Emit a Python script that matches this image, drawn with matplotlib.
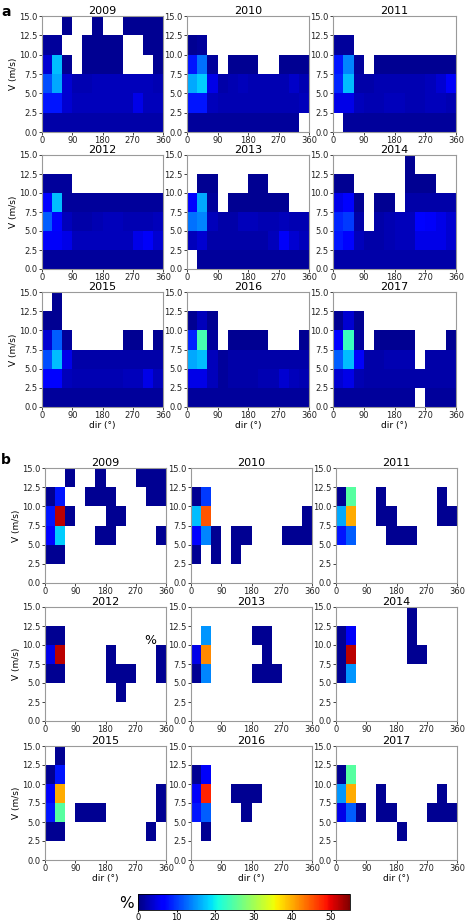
import numpy as np
import matplotlib
matplotlib.use("Agg")
import matplotlib.pyplot as plt

N = None

years = [2009, 2010, 2011, 2012, 2013, 2014, 2015, 2016, 2017]
dir_edges = np.arange(0, 361, 30)
v_edges = np.arange(0, 15.1, 2.5)
xticks = [0, 90, 180, 270, 360]
yticks = [0.0, 2.5, 5.0, 7.5, 10.0, 12.5, 15.0]
cbar_ticks = [0, 10, 20, 30, 40, 50]

# rows listed from the top speed bin (12.5-15) down to 0-2.5, cols 0..360 by 30 deg
a2009 = [[N, N, 1, N, N, 1, N, N, 1, 1, 1, 1],
         [1.5, 1.5, N, N, 1, 1, 1, 1, N, N, 1, 1],
         [4, 17, 1, N, 1, 1, 1, 1, N, N, N, 1],
         [11, 16, 4, 2.5, 2.5, 3, 3, 3, 3, 3, 3, 2.5],
         [8, 8, 4, 3, 3, 3, 3, 3, 3, 5, 3, 3],
         [2, 2, 2, 2, 2, 2, 2, 2, 2, 2, 2, 2]]
a2010 = [[N, N, N, N, N, N, N, N, N, N, N, N],
         [1, 1.5, N, N, N, N, N, N, N, N, N, N],
         [8, 13, 1.5, N, 1, 1, 1, N, N, 1, 1, 1],
         [16, 18, 5, 2, 2.5, 3, 2.5, 2.5, 2.5, 2.5, 3.5, 2.5],
         [8, 8, 3, 2.5, 2.5, 2.5, 2.5, 2.5, 2.5, 2.5, 2.5, 3],
         [1.5, 1.5, 1.5, 1.5, 1.5, 1.5, 1.5, 1.5, 1.5, 1.5, 1.5, N]]
a2011 = [[N, N, N, N, N, N, N, N, N, N, N, N],
         [1.5, 1.5, N, N, N, N, N, N, N, N, N, N],
         [8, 14, 1.5, N, 1, 1, 1, 1, 1, 1, 1, 1],
         [9, 17, 2, 2, 2.5, 2.5, 2.5, 2.5, 2.5, 3, 4, 6],
         [5, 5, 3, 2.5, 2.5, 3, 3, 2.5, 2.5, 3, 3, 2.5],
         [N, 1.5, 1.5, 1.5, 1.5, 1.5, 1.5, 1.5, 1.5, 1.5, 1.5, 1.5]]
a2012 = [[N, N, N, N, N, N, N, N, N, N, N, N],
         [1.5, 1.5, 1.5, N, N, N, N, N, N, N, N, N],
         [7, 17, 1.5, 1.5, 1.5, 1.5, 1.5, 1.5, 1.5, 1.5, 1.5, 1.5],
         [12, 7, 3, 2, 2, 2.5, 3, 3, 2.5, 2.5, 2.5, 3],
         [6, 6, 5, 3, 3, 3, 3, 3, 3, 5, 6, 4],
         [1.5, 1.5, 1.5, 1.5, 1.5, 1.5, 1.5, 1.5, 1.5, 1.5, 1.5, 1.5]]
a2013 = [[N, N, N, N, N, N, N, N, N, N, N, N],
         [N, 1, 1, N, N, N, 1, 1, N, N, N, N],
         [7, 16, 1.5, N, 1, 1, 1, 1, 1, 1, N, N],
         [13, 14, 3, 2, 2, 3, 3, 2.5, 2.5, 3, 2.5, 2.5],
         [3, 4, 2, 2, 2, 2, 2, 2, 3, 6, 4, 3],
         [N, 1.5, 1.5, 1.5, 1.5, 1.5, 1.5, 1.5, 1.5, 1.5, 1.5, 1.5]]
a2014 = [[N, N, N, N, N, N, N, 1, N, N, N, N],
         [1, 1, N, N, N, N, N, 1, 1, 1, N, N],
         [5, 7, 1, N, 1, 1, N, 2, 2, 2, 2, 2],
         [9, 10, 2, N, 2, 2.5, 3, 3, 7, 6, 5, 4],
         [8, 7, 3, 2, 2, 2.5, 3, 3, 5, 5, 5, 4],
         [2, 2, 2, 2, 2, 2, 2, 2, 2, 2, 2, 2]]
a2015 = [[N, 1, N, N, N, N, N, N, N, N, N, N],
         [1, 1, N, N, N, N, N, N, N, N, N, N],
         [4, 12, 1.5, N, N, N, N, N, 1, 1, N, 1],
         [11, 17, 5, 2, 2, 2, 2, 2, 2, 2, 2, 2],
         [7, 7, 3, 2.5, 2.5, 2.5, 2.5, 2.5, 3, 3, 5, 3],
         [1.5, 1.5, 1.5, 1.5, 1.5, 1.5, 1.5, 1.5, 1.5, 1.5, 1.5, 1.5]]
a2016 = [[N, N, N, N, N, N, N, N, N, N, N, N],
         [1, 3, 1, N, N, N, N, N, N, N, N, N],
         [9, 24, 1.5, N, 1, 1, 1, 1, N, N, N, 1],
         [16, 17, 3, 1.5, 2, 2, 2, 2, 2, 2, 2, 2],
         [5, 5, 3, 1.5, 2, 2, 2, 2.5, 2.5, 4, 3, 2.5],
         [1.5, 1.5, 1.5, 1.5, 1.5, 1.5, 1.5, 1.5, 1.5, 1.5, 1.5, 1.5]]
a2017 = [[N, N, N, N, N, N, N, N, N, N, N, N],
         [1, 4, 1, N, N, N, N, N, N, N, N, N],
         [7, 23, 1.5, N, 1, 1, 1, 1, N, N, N, 1],
         [12, 17, 6, 2, 2, 2.5, 2.5, 2.5, N, 2, 2, 2],
         [4, 5, 2.5, 2, 2, 2, 2, 2, 2, 2, 2, 2],
         [1.5, 1.5, 1.5, 1.5, 1.5, 1.5, 1.5, 1.5, N, 1.5, 1.5, 1.5]]

b2009 = [[N, N, 1, N, N, 1, N, N, N, 1, 1, 1],
         [1, 8, N, N, 1, 1, 1, N, N, N, 1, 1],
         [8, 52, 1, N, N, N, 1, 1, N, N, N, N],
         [7, 18, N, N, N, 1, 1, N, N, N, N, 1],
         [1, 1, N, N, N, N, N, N, N, N, N, N],
         [N, N, N, N, N, N, N, N, N, N, N, N]]
b2010 = [[N, N, N, N, N, N, N, N, N, N, N, N],
         [1, 10, N, N, N, N, N, N, N, N, N, N],
         [17, 45, N, N, N, N, N, N, N, N, N, 1],
         [7, 14, 1, N, 1, 1, N, N, N, 1, 1, 1],
         [1, N, 1, N, 1, N, N, N, N, N, N, N],
         [N, N, N, N, N, N, N, N, N, N, N, N]]
b2011 = [[N, N, N, N, N, N, N, N, N, N, N, N],
         [1, 25, N, N, 1, N, N, N, N, N, 1, N],
         [16, 40, N, N, 1, 1, N, N, N, N, 1, 1],
         [8, 12, N, N, N, 1, 1, 1, N, N, N, N],
         [N, N, N, N, N, N, N, N, N, N, N, N],
         [N, N, N, N, N, N, N, N, N, N, N, N]]
b2012 = [[N, N, N, N, N, N, N, N, N, N, N, N],
         [1, 1, N, N, N, N, N, N, N, N, N, N],
         [5, 52, N, N, N, N, 1, N, N, N, N, 1],
         [1, 1, N, N, N, N, 1, 1, 1, N, N, 1],
         [N, N, N, N, N, N, N, 1, N, N, N, N],
         [N, N, N, N, N, N, N, N, N, N, N, N]]
b2013 = [[N, N, N, N, N, N, N, N, N, N, N, N],
         [N, 15, N, N, N, N, 1, 1, N, N, N, N],
         [5, 42, N, N, N, N, N, 1, N, N, N, N],
         [1, 14, N, N, N, N, 1, 1, 1, N, N, N],
         [N, N, N, N, N, N, N, N, N, N, N, N],
         [N, N, N, N, N, N, N, N, N, N, N, N]]
b2014 = [[N, N, N, N, N, N, N, 1, N, N, N, N],
         [1, 6, N, N, N, N, N, 1, N, N, N, N],
         [1, 52, N, N, N, N, N, 1, 1, N, N, N],
         [1, 15, N, N, N, N, N, N, N, N, N, N],
         [N, N, N, N, N, N, N, N, N, N, N, N],
         [N, N, N, N, N, N, N, N, N, N, N, N]]
b2015 = [[N, 1, N, N, N, N, N, N, N, N, N, N],
         [1, 8, N, N, N, N, N, N, N, N, N, N],
         [6, 40, N, N, N, N, N, N, N, N, N, 1],
         [8, 25, N, 1, 1, 1, N, N, N, N, N, 1],
         [1, 1, N, N, N, N, N, N, N, N, 1, N],
         [N, N, N, N, N, N, N, N, N, N, N, N]]
b2016 = [[N, N, N, N, N, N, N, N, N, N, N, N],
         [1, 6, N, N, N, N, N, N, N, N, N, N],
         [6, 48, N, N, 1, 1, 1, N, N, N, N, N],
         [8, 12, N, N, N, 1, N, N, N, N, N, N],
         [N, 1, N, N, N, N, N, N, N, N, N, N],
         [N, N, N, N, N, N, N, N, N, N, N, N]]
b2017 = [[N, N, N, N, N, N, N, N, N, N, N, N],
         [1, 25, N, N, N, N, N, N, N, N, N, N],
         [15, 40, N, N, 1, N, N, N, N, N, 1, N],
         [5, 12, 1, N, 1, 1, N, N, N, 1, 1, 1],
         [N, N, N, N, N, N, 1, N, N, N, N, N],
         [N, N, N, N, N, N, N, N, N, N, N, N]]

panel_a = [a2009, a2010, a2011, a2012, a2013, a2014, a2015, a2016, a2017]
panel_b = [b2009, b2010, b2011, b2012, b2013, b2014, b2015, b2016, b2017]

W, H = 465, 923
fig = plt.figure(figsize=(W / 100, H / 100), dpi=100)

# pixel boxes of the axes (left, right, top, bottom)
a_cols = [(42, 163), (187, 309), (333, 456)]
a_rows = [(16, 132), (155, 269), (292, 407)]
b_cols = [(45, 166), (191, 312), (336, 457)]
b_rows = [(468, 583), (607, 721), (746, 860)]


def to_grid(rows):
    arr = np.array([[np.nan if v is None else v for v in r] for r in rows], float)
    return np.ma.masked_invalid(np.flipud(arr))


def draw_panel(data, cols, rows):
    mesh = None
    for k, (yr, vals) in enumerate(zip(years, data)):
        i, j = divmod(k, 3)
        x0, x1 = cols[j]
        y0, y1 = rows[i]
        ax = fig.add_axes([x0 / W, 1 - y1 / H, (x1 - x0) / W, (y1 - y0) / H])
        mesh = ax.pcolormesh(dir_edges, v_edges, to_grid(vals),
                             cmap='jet', vmin=0, vmax=55)
        ax.set_xlim(0, 360)
        ax.set_ylim(0, 15)
        ax.set_xticks(xticks)
        ax.set_yticks(yticks)
        ax.set_yticklabels([f'{t:.1f}' for t in yticks])
        ax.tick_params(labelsize=6, length=2, width=0.6,
                       colors='#222222', pad=1)
        for s in ax.spines.values():
            s.set_color('#9a9a9a')
            s.set_linewidth(0.8)
        ax.set_title(str(yr), fontsize=8, pad=0.5)
        if j == 0:
            ax.set_ylabel('V (m/s)', fontsize=6.5, labelpad=1)
        if i == 2:
            ax.set_xlabel('dir (°)', fontsize=6.5, labelpad=0.5)
    return mesh


draw_panel(panel_a, a_cols, a_rows)
mesh = draw_panel(panel_b, b_cols, b_rows)

fig.text(1 / W, 1 - 12 / H, 'a', fontsize=10, fontweight='bold', va='center')
fig.text(1 / W, 1 - 460 / H, 'b', fontsize=10, fontweight='bold', va='center')
fig.text(150 / W, 1 - 640 / H, '%', fontsize=9, ha='center', va='center')

cax = fig.add_axes([138 / W, 1 - 910 / H, 212 / W, 16 / H])
cb = fig.colorbar(mesh, cax=cax, orientation='horizontal', ticks=cbar_ticks)
cb.ax.tick_params(labelsize=6, length=1.5, pad=0.5)
cb.outline.set_linewidth(0.6)
fig.text(126 / W, 1 - 904 / H, '%', fontsize=11, ha='center', va='center')

fig.savefig('out.png', dpi=100)
